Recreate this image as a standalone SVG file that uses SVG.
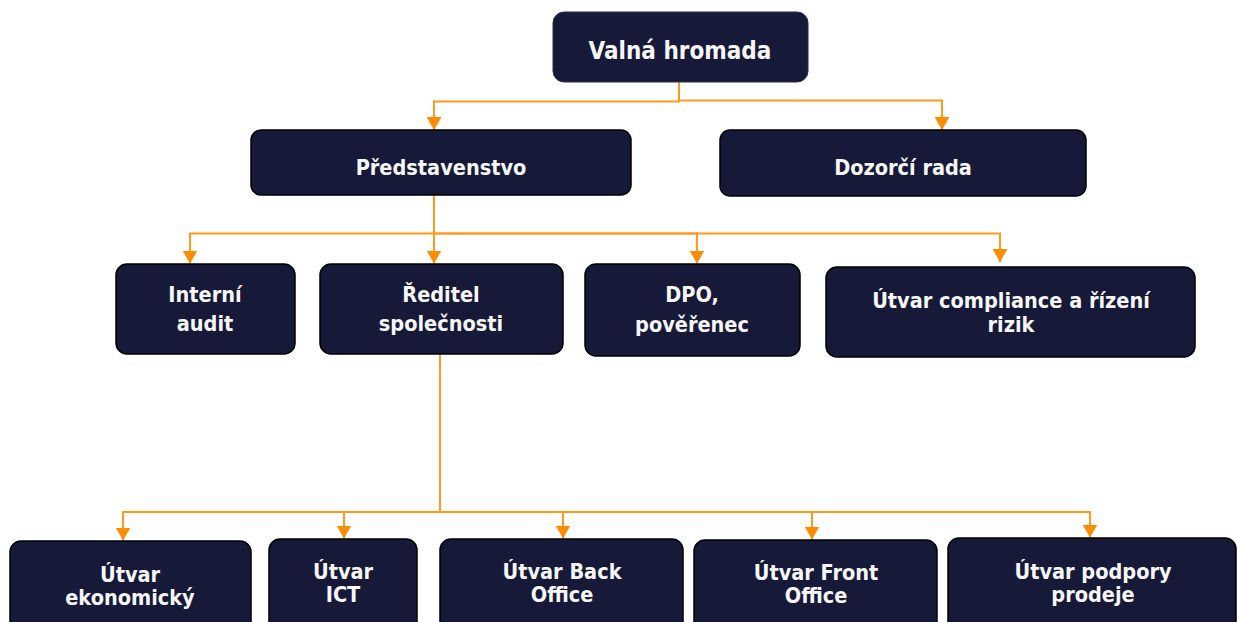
<svg xmlns="http://www.w3.org/2000/svg" width="1237" height="622" viewBox="0 0 1237 622">
<style>
.box{fill:#161A38;stroke:#000;stroke-width:1.5}
.t{font-family:"DejaVu Sans Condensed","DejaVu Sans",sans-serif;font-stretch:condensed;font-weight:bold;font-size:21.5px;fill:#F7F7F7;text-anchor:middle}
.big{font-size:24px}
.c{fill:none;stroke:#FF9A1F;stroke-width:2}
</style>
<defs>
<marker id="arr" markerUnits="userSpaceOnUse" markerWidth="13" markerHeight="15" refX="13" refY="7.5" orient="auto" viewBox="0 0 13 15">
<path d="M0,0 L13,7.5 L0,15 z" fill="#FF8C00"/>
</marker>
</defs>
<g id="connectors">
<path class="c" d="M679,82 V101.5 H434 V130" marker-end="url(#arr)"/>
<path class="c" d="M679,82 V100.5 H942 V130" marker-end="url(#arr)"/>
<path class="c" d="M434,195 V233.5 H190 V263.5" marker-end="url(#arr)"/>
<path class="c" d="M434,195 V263.5" marker-end="url(#arr)"/>
<path class="c" d="M434,233.5 H697 V263.5" marker-end="url(#arr)"/>
<path class="c" d="M434,233.5 H1000 V262" marker-end="url(#arr)"/>
<path class="c" d="M440,354 V512 H123 V540.5" marker-end="url(#arr)"/>
<path class="c" d="M440,512 H344 V538.5" marker-end="url(#arr)"/>
<path class="c" d="M440,512 H563 V538.5" marker-end="url(#arr)"/>
<path class="c" d="M440,512 H812 V539.5" marker-end="url(#arr)"/>
<path class="c" d="M440,512 H1090 V537.5" marker-end="url(#arr)"/>
</g>
<g id="valna-hromada">
<rect class="box" x="553" y="12" width="255" height="70" rx="11" style="stroke:#2A2E4A;stroke-width:1"/>
<text class="t big" x="680" y="59">Valná hromada</text>
</g>
<g id="predstavenstvo">
<rect class="box" x="251" y="130" width="380" height="65" rx="10"/>
<text class="t" x="441" y="175">Představenstvo</text>
</g>
<g id="dozorci-rada">
<rect class="box" x="720" y="130" width="366" height="66" rx="10"/>
<text class="t" x="903" y="175">Dozorčí rada</text>
</g>
<g id="interni-audit">
<rect class="box" x="116" y="264" width="179" height="90" rx="11"/>
<text class="t" x="205" y="302">Interní</text>
<text class="t" x="205" y="331">audit</text>
</g>
<g id="reditel">
<rect class="box" x="320" y="264" width="243" height="90" rx="11"/>
<text class="t" x="441" y="302">Ředitel</text>
<text class="t" x="441" y="331">společnosti</text>
</g>
<g id="dpo">
<rect class="box" x="585" y="264" width="215" height="92" rx="11"/>
<text class="t" x="692" y="302">DPO,</text>
<text class="t" x="692" y="332">pověřenec</text>
</g>
<g id="compliance">
<rect class="box" x="826" y="267" width="369" height="90" rx="11"/>
<text class="t" x="1011" y="308">Útvar compliance a řízení</text>
<text class="t" x="1011" y="332">rizik</text>
</g>
<g id="ekonomicky">
<rect class="box" x="10" y="541" width="241" height="95" rx="11"/>
<text class="t" x="130" y="582">Útvar</text>
<text class="t" x="130" y="605">ekonomický</text>
</g>
<g id="ict">
<rect class="box" x="269" y="539" width="148" height="95" rx="11"/>
<text class="t" x="343" y="579">Útvar</text>
<text class="t" x="343" y="602">ICT</text>
</g>
<g id="back-office">
<rect class="box" x="440" y="539" width="243" height="95" rx="11"/>
<text class="t" x="562" y="579">Útvar Back</text>
<text class="t" x="562" y="602">Office</text>
</g>
<g id="front-office">
<rect class="box" x="694" y="540" width="243" height="95" rx="11"/>
<text class="t" x="816" y="580">Útvar Front</text>
<text class="t" x="816" y="603">Office</text>
</g>
<g id="podpora-prodeje">
<rect class="box" x="948" y="538" width="288" height="95" rx="11"/>
<text class="t" x="1093" y="579">Útvar podpory</text>
<text class="t" x="1093" y="602">prodeje</text>
</g>
</svg>
